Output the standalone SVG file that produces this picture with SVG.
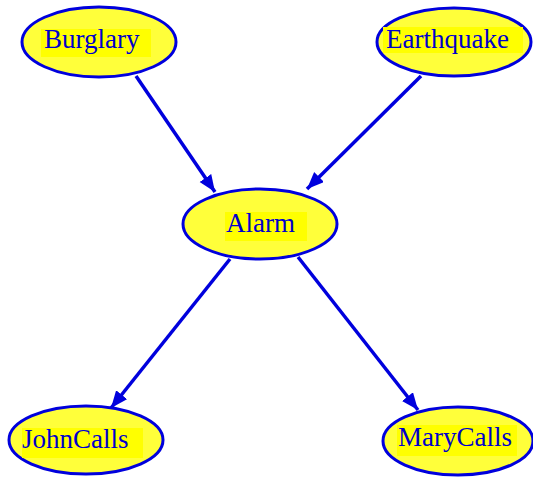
<svg xmlns="http://www.w3.org/2000/svg" width="533" height="478" viewBox="0 0 533 478">
<style>
.node ellipse{fill:#ffff3a;stroke:#0000dd;stroke-width:3}
.node rect{fill:#ffff00}
.node text{font-family:"Liberation Serif","Times New Roman",serif;font-size:27px;fill:#0000cc}
.edge{stroke:#0000dd;stroke-width:3.5;fill:none;marker-end:url(#arr)}
</style>
<defs>
<marker id="arr" markerUnits="userSpaceOnUse" markerWidth="20" markerHeight="16" refX="17" refY="7" orient="auto">
<path d="M0,0 L17,7 L0,14 Z" fill="#0000dd"/>
</marker>
</defs>
<rect width="533" height="478" fill="#ffffff"/>
<g id="connectors">
<line class="edge" x1="136" y1="76" x2="215" y2="192"/>
<line class="edge" x1="421" y1="76" x2="307" y2="189"/>
<line class="edge" x1="230" y1="259" x2="111" y2="408"/>
<line class="edge" x1="298" y1="257" x2="418" y2="410"/>
</g>
<g id="Burglary" class="node">
<ellipse cx="99" cy="42" rx="77" ry="35"/>
<rect x="41" y="29" width="110" height="28"/>
<text x="44" y="48">Burglary</text>
</g>
<g id="Earthquake" class="node">
<ellipse cx="454" cy="42" rx="77" ry="34"/>
<rect x="383" y="27" width="140" height="26"/>
<text x="386" y="48">Earthquake</text>
</g>
<g id="Alarm" class="node">
<ellipse cx="260" cy="224" rx="77" ry="35"/>
<rect x="225" y="212" width="82" height="29"/>
<text x="226" y="232">Alarm</text>
</g>
<g id="JohnCalls" class="node">
<ellipse cx="86" cy="440" rx="77" ry="34"/>
<rect x="22" y="428" width="121" height="30"/>
<text x="22" y="448">JohnCalls</text>
</g>
<g id="MaryCalls" class="node">
<ellipse cx="458" cy="441" rx="75" ry="34"/>
<rect x="397" y="425" width="120" height="31"/>
<text x="398" y="446">MaryCalls</text>
</g>
</svg>
